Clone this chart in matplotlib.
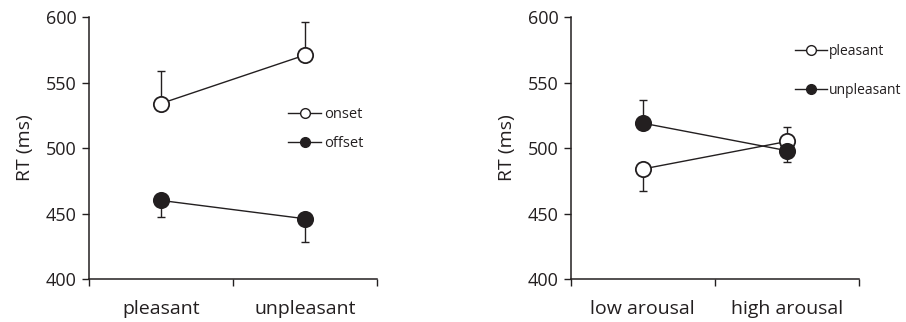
import matplotlib
matplotlib.use("Agg")
import matplotlib.pyplot as plt

plt.rcParams['font.family'] = ['Open Sans', 'DejaVu Sans']
INK = '#231f20'

# left panel: valence x onset/offset
left_cats = ['pleasant', 'unpleasant']
onset_rt = [534, 571]
onset_err = [25, 25]      # upward only
offset_rt = [460, 446]
offset_err = [13, 18]     # downward only

# right panel: arousal x valence
right_cats = ['low arousal', 'high arousal']
pleas_rt = [484, 505]
pleas_err_lo = [17, 0]
pleas_err_hi = [0, 11]
unpl_rt = [519, 498]
unpl_err_lo = [0, 9]
unpl_err_hi = [18, 0]

yticks = [400, 450, 500, 550, 600]


def series(ax, x, y, lo, hi, filled, label):
    ax.errorbar(x, y, yerr=[lo, hi], fmt='none', ecolor=INK, elinewidth=1,
                capsize=3, capthick=1, zorder=2)
    ax.plot(x, y, '-', color=INK, lw=1, zorder=3)
    ax.plot(x, y, 'o', ms=11, mec=INK, mew=1.3,
            mfc=INK if filled else 'white', zorder=4)
    # legend proxy
    ax.plot([], [], '-o', color=INK, lw=1, ms=7, mec=INK, mew=1,
            mfc=INK if filled else 'white', label=label)


def style(ax, cats):
    ax.set_xlim(0, 2)
    ax.set_ylim(400, 600)
    ax.set_yticks(yticks)
    ax.set_xticks([0, 1, 2])
    ax.set_xticklabels([])
    ax.set_xticks([0.5, 1.5], minor=True)
    ax.set_xticklabels(cats, minor=True, fontsize=14, color=INK)
    ax.tick_params(axis='x', which='minor', length=0, pad=15)
    ax.tick_params(axis='x', which='major', length=5, width=1, color=INK)
    ax.tick_params(axis='y', length=5, width=1, color=INK, labelsize=13,
                   labelcolor=INK, pad=4)
    for s in ['top', 'right']:
        ax.spines[s].set_visible(False)
    for s in ['left', 'bottom']:
        ax.spines[s].set_color(INK)
        ax.spines[s].set_linewidth(1.1)
    ax.set_ylabel('RT (ms)', fontsize=14, color=INK, labelpad=8)


fig = plt.figure(figsize=(9.06, 3.22), dpi=100)
ax1 = fig.add_axes([0.0982, 0.1335, 0.318, 0.8135])
ax2 = fig.add_axes([0.630, 0.1335, 0.318, 0.8135])

xs = [0.5, 1.5]
series(ax1, xs, onset_rt, [0, 0], onset_err, False, 'onset')
series(ax1, xs, offset_rt, offset_err, [0, 0], True, 'offset')
style(ax1, left_cats)
ax1.legend(loc='upper left', bbox_to_anchor=(0.67, 0.68), frameon=False,
           fontsize=10.5, handlelength=2.3, handletextpad=0.2,
           labelspacing=1.0, borderaxespad=0, labelcolor=INK)

series(ax2, xs, pleas_rt, pleas_err_lo, pleas_err_hi, False, 'pleasant')
series(ax2, xs, unpl_rt, unpl_err_lo, unpl_err_hi, True, 'unpleasant')
style(ax2, right_cats)
ax2.legend(loc='upper left', bbox_to_anchor=(0.76, 0.92), frameon=False,
           fontsize=10, handlelength=2.3, handletextpad=0.1,
           labelspacing=1.75, borderaxespad=0, labelcolor=INK)

fig.savefig('out.png', dpi=100)
